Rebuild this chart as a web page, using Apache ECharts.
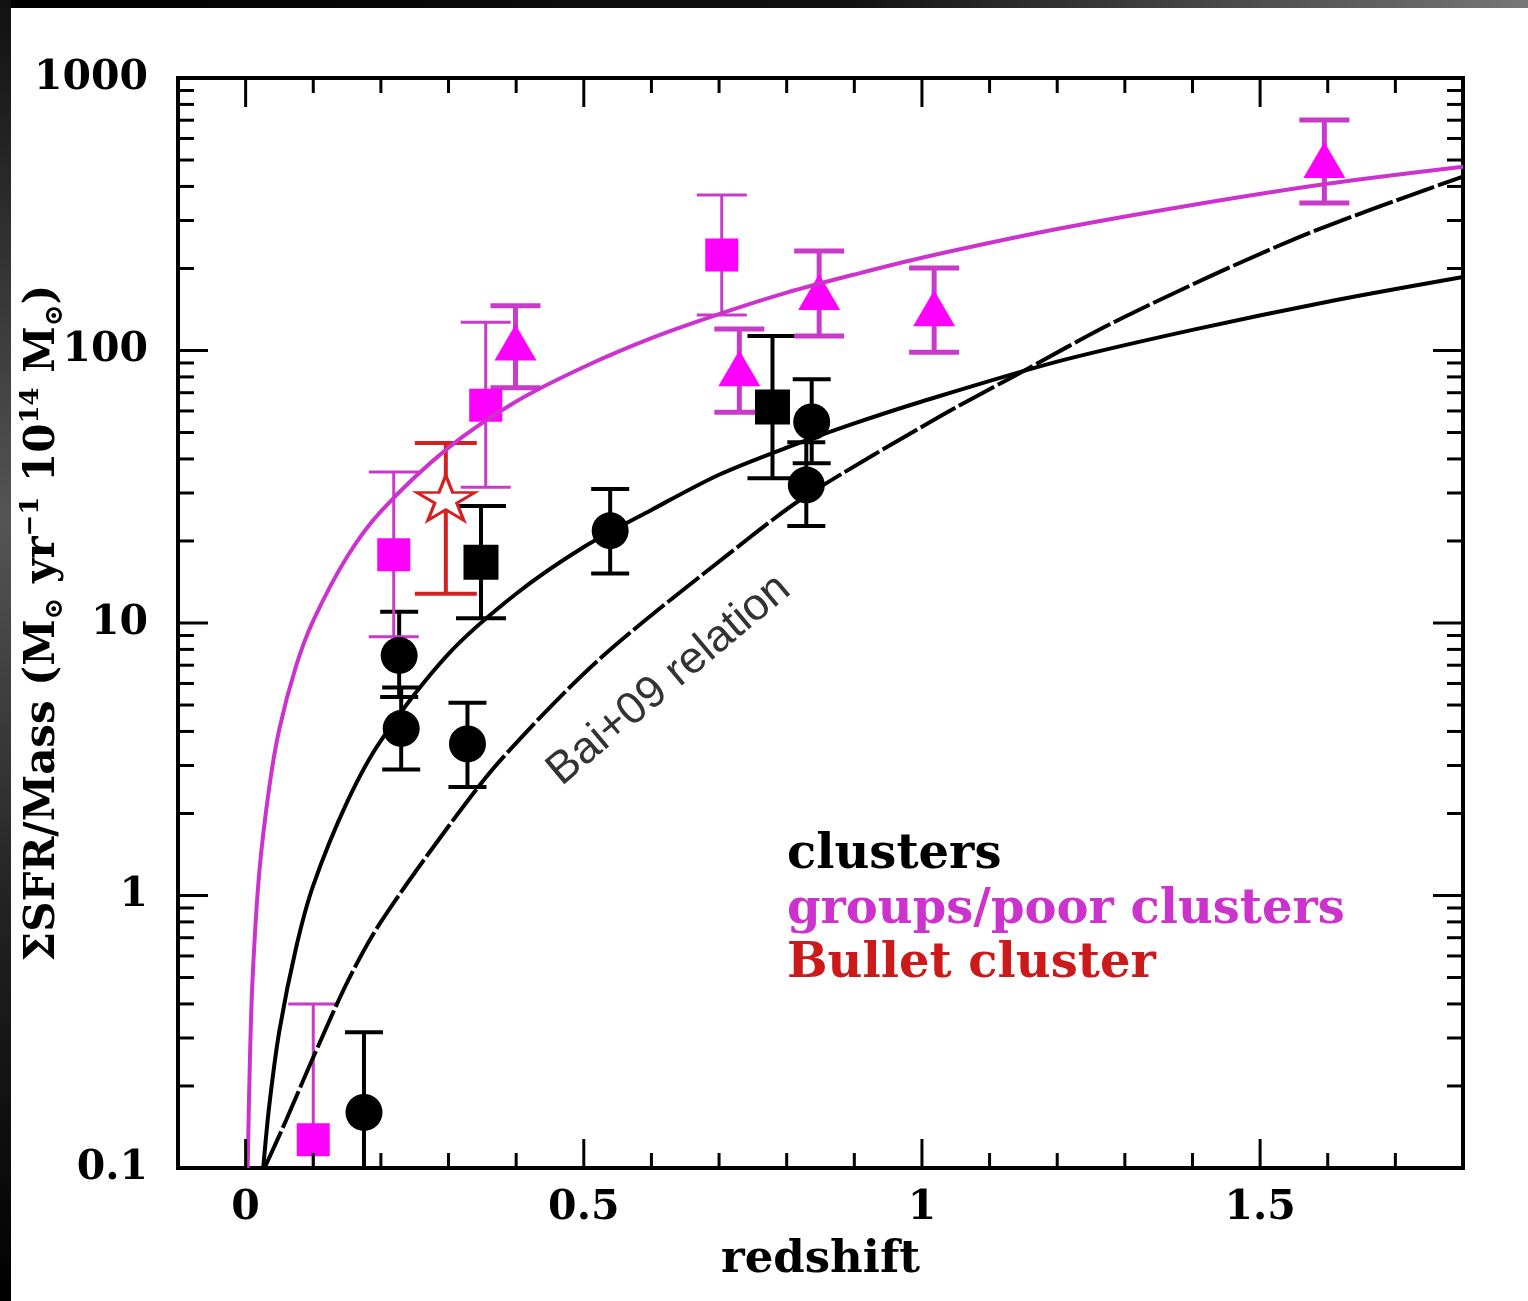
<!DOCTYPE html>
<html><head><meta charset="utf-8">
<script src="https://cdn.jsdelivr.net/npm/echarts@6/dist/echarts.min.js"></script>
<style>html,body{margin:0;padding:0;background:#fff}#c{width:1528px;height:1301px}</style>
</head><body><div id="c"></div>
<script>
// ---- axis ticks / labels ----
const xTickValues = [0, 0.5, 1, 1.5];
const xTickLabels = ['0', '0.5', '1', '1.5'];
const xMinorTicks = [0.1,0.2,0.3,0.4,0.6,0.7,0.8,0.9,1.1,1.2,1.3,1.4,1.6,1.7];
const yTickValues = [0.1, 1, 10, 100, 1000];
const yTickLabels = ['0.1', '1', '10', '100', '1000'];
const yMinorMultipliers = [2,3,4,5,6,7,8,9];
const yMinorDecades = [0.1, 1, 10, 100];

// ---- data: [redshift, value, errLow, errHigh] ----
const clusterCircles = [
  [0.175, 0.16, 0.05, 0.315],
  [0.227, 7.6, 5.35, 11.0],
  [0.230, 4.1, 2.9, 5.8],
  [0.328, 3.6, 2.5, 5.1],
  [0.539, 21.8, 15.2, 31],
  [0.837, 54.7, 38.6, 78.5],
  [0.829, 32.1, 22.7, 46.1]
];
const clusterSquares = [
  [0.348, 16.7, 10.4, 26.9],
  [0.779, 62, 34, 113]
];
const groupSquares = [
  [0.100, 0.127, 0.05, 0.40],
  [0.219, 17.8, 8.9, 35.8],
  [0.355, 63, 31.5, 127],
  [0.704, 224, 135, 372]
];
const groupTriangles = [
  [0.399, 107, 73, 146],
  [0.730, 86, 59.4, 120],
  [0.848, 164, 113, 232],
  [1.018, 143, 98.6, 201],
  [1.595, 500, 348, 701]
];
const bulletCluster = [
  [0.296, 28.8, 12.8, 45.8]
];

// ---- fitted curves: [redshift, value] ----
const groupFit = [[0.003,0.1],[0.006,0.23],[0.01,0.48],[0.02,1.2],[0.035,2.5],[0.05,4.1],[0.075,7],[0.1,10.2],[0.15,17.5],[0.2,25.7],[0.3,44],[0.4,65],[0.5,87],[0.6,111],[0.7,136],[0.8,163],[0.9,190],[1.0,219],[1.2,279],[1.4,342],[1.6,409],[1.8,472]];
const clusterFit = [[0.026,0.1],[0.035,0.17],[0.05,0.32],[0.075,0.65],[0.1,1.09],[0.15,2.2],[0.2,3.7],[0.3,7.7],[0.4,12.8],[0.5,19],[0.6,26],[0.7,35],[0.8,44],[0.9,54],[1.0,65],[1.2,91],[1.4,119],[1.6,151],[1.8,186]];
const baiRelation = [[0.028,0.1],[0.06,0.15],[0.1,0.255],[0.152,0.49],[0.2,0.8],[0.299,1.78],[0.377,3.14],[0.524,7.4],[0.741,20.2],[0.831,29.5],[1.025,57],[1.13,79],[1.3,133],[1.555,259],[1.8,435]];

// ---- build ----
const MAG = '#ff00ff', MAGBAR = '#c83ac8', MAGLINE = '#cc33cc', RED = '#d42020';
const FONT = 'DejaVu Serif';

const tickData = [];
xTickValues.forEach(v => tickData.push([v, 1, 0]));
xMinorTicks.forEach(v => tickData.push([v, 1, 1]));
yTickValues.forEach(v => tickData.push([0.5, v, 2]));
yMinorDecades.forEach(d => yMinorMultipliers.forEach(m => tickData.push([0.5, +(m*d).toPrecision(6), 3])));

const tickLen = {0: 29, 1: 15, 2: 30, 3: 16};
function tickRender(params, api) {
  const cs = params.coordSys;
  const kind = api.value(2);
  const len = tickLen[kind];
  const st = {stroke: '#000', lineWidth: 3};
  if (kind < 2) {
    const x = api.coord([api.value(0), 1])[0];
    const b = cs.y + cs.height, t = cs.y;
    return {type: 'group', children: [
      {type: 'line', shape: {x1: x, y1: b, x2: x, y2: b - len}, style: st},
      {type: 'line', shape: {x1: x, y1: t, x2: x, y2: t + len}, style: st}
    ]};
  } else {
    const y = api.coord([0.5, api.value(1)])[1];
    const l = cs.x, r = cs.x + cs.width;
    return {type: 'group', children: [
      {type: 'line', shape: {x1: l, y1: y, x2: l + len, y2: y}, style: st},
      {type: 'line', shape: {x1: r, y1: y, x2: r - len, y2: y}, style: st}
    ]};
  }
}

function errRender(color, halfCap, lw) {
  return function (params, api) {
    const x = api.value(0);
    const lo = api.coord([x, api.value(2)]);
    const hi = api.coord([x, api.value(3)]);
    const st = {stroke: color, lineWidth: lw};
    return {type: 'group', children: [
      {type: 'line', shape: {x1: lo[0], y1: lo[1], x2: hi[0], y2: hi[1]}, style: st},
      {type: 'line', shape: {x1: lo[0] - halfCap, y1: lo[1], x2: lo[0] + halfCap, y2: lo[1]}, style: st},
      {type: 'line', shape: {x1: hi[0] - halfCap, y1: hi[1], x2: hi[0] + halfCap, y2: hi[1]}, style: st}
    ]};
  };
}
function errSeries(data, color, halfCap, lw) {
  return {type: 'custom', renderItem: errRender(color, halfCap, lw), data: data,
    encode: {x: 0, y: 1}, clip: true, z: 3, silent: true};
}
function markSeries(data, symbol, size, color, extra) {
  return Object.assign({type: 'scatter', symbol: symbol, symbolSize: size,
    data: data.map(d => [d[0], d[1]]), itemStyle: {color: color, opacity: 1}, z: 4, silent: true}, extra || {});
}
function lineSeries(data, color, type) {
  return {type: 'line', data: data, showSymbol: false, smooth: 0.3,
    lineStyle: {color: color, width: 4, type: type || 'solid'}, z: 5, silent: true, clip: true};
}

const STAR = 'path://M50,0 L61.17,34.63 L97.55,34.55 L68.07,55.87 L79.39,90.45 L50,69 L20.61,90.45 L31.93,55.87 L2.45,34.55 L38.83,34.63 Z';

const chart = echarts.init(document.getElementById('c'), null, {renderer: 'canvas'});
chart.setOption({
  animation: false,
  backgroundColor: '#fff',
  grid: {left: 178, top: 78, right: 65, bottom: 133, containLabel: false, outerBoundsMode: 'none',
    show: true, borderColor: '#000', borderWidth: 4, backgroundColor: 'transparent'},
  xAxis: {
    type: 'value', min: -0.1, max: 1.8, interval: 0.1,
    axisLine: {show: false}, axisTick: {show: false}, splitLine: {show: false},
    axisLabel: {
      margin: 20, color: '#000', fontFamily: FONT, fontWeight: 'bold', fontSize: 41,
      formatter: v => { const i = xTickValues.findIndex(t => Math.abs(t - v) < 1e-6); return i < 0 ? '' : xTickLabels[i]; }
    },
    name: 'redshift', nameLocation: 'middle', nameGap: 70, nameMoveOverlap: false,
    nameTextStyle: {color: '#000', fontFamily: FONT, fontWeight: 'bold', fontSize: 45}
  },
  yAxis: {
    type: 'log', logBase: 10, min: 0.1, max: 1000,
    axisLine: {show: false}, axisTick: {show: false}, splitLine: {show: false}, minorTick: {show: false},
    axisLabel: {
      margin: 30, color: '#000', fontFamily: FONT, fontWeight: 'bold', fontSize: 41,
      formatter: v => { const i = yTickValues.findIndex(t => Math.abs(Math.log10(t) - Math.log10(v)) < 1e-6); return i < 0 ? '' : yTickLabels[i]; }
    },
    name: '{n|ΣSFR/Mass (M}{sub|⊙}{n| yr}{sup|−1}{n| 10}{sup|14}{n| M}{sub|⊙}{n|)}',
    nameLocation: 'middle', nameGap: 110, nameRotate: 90, nameMoveOverlap: false,
    nameTextStyle: {
      color: '#000',
      rich: {
        n: {fontFamily: FONT, fontWeight: 'bold', fontSize: 42, color: '#000', lineHeight: 50},
        sub: {fontFamily: FONT, fontWeight: 'bold', fontSize: 26, color: '#000', verticalAlign: 'bottom', lineHeight: 30},
        sup: {fontFamily: FONT, fontWeight: 'bold', fontSize: 26, color: '#000', verticalAlign: 'top', lineHeight: 30}
      }
    }
  },
  graphic: [
    {type: 'rect', left: 0, top: 0, z: 100, shape: {width: 1528, height: 8},
      style: {fill: new echarts.graphic.LinearGradient(0, 0, 1, 0, [{offset: 0, color: '#000'}, {offset: 0.55, color: '#111'}, {offset: 1, color: '#777'}])}},
    {type: 'rect', left: 0, top: 0, z: 100, shape: {width: 11, height: 1301},
      style: {fill: new echarts.graphic.LinearGradient(0, 0, 0, 1, [{offset: 0, color: '#111'}, {offset: 0.4, color: '#555'}, {offset: 0.7, color: '#222'}, {offset: 1, color: '#000'}])}},
    {type: 'text', x: 787, y: 856, z: 50, style: {text: 'clusters', fill: '#000', font: 'bold 48px "DejaVu Serif"', verticalAlign: 'middle'}},
    {type: 'text', x: 787, y: 911, z: 50, style: {text: 'groups/poor clusters', fill: MAGLINE, font: 'bold 48px "DejaVu Serif"', verticalAlign: 'middle'}},
    {type: 'text', x: 787, y: 965, z: 50, style: {text: 'Bullet cluster', fill: '#cc1a1a', font: 'bold 48px "DejaVu Serif"', verticalAlign: 'middle'}},
    {type: 'text', x: 669, y: 680, rotation: 40 * Math.PI / 180, z: 50,
      style: {text: 'Bai+09 relation', fill: '#333', font: '45px "Liberation Sans"', align: 'center', verticalAlign: 'middle'}}
  ],
  series: [
    {type: 'custom', renderItem: tickRender, data: tickData, encode: {x: 0, y: 1}, clip: false, z: 6, silent: true},
    errSeries(clusterCircles, '#000', 19, 4),
    errSeries(clusterSquares, '#000', 25, 4),
    errSeries(groupSquares, MAGBAR, 25, 3),
    errSeries(groupTriangles, MAGBAR, 25, 5),
    errSeries(bulletCluster, RED, 31, 4),
    markSeries(clusterCircles, 'circle', 37, '#000'),
    markSeries(clusterSquares, 'rect', 35, '#000'),
    markSeries(groupSquares, 'rect', 33, MAG),
    markSeries(groupTriangles, 'triangle', [42, 36], MAG),
    markSeries(bulletCluster, STAR, [58, 45], '#fff', {itemStyle: {color: '#fff', borderColor: RED, borderWidth: 3, opacity: 1}}),
    lineSeries(groupFit, MAGLINE),
    lineSeries(clusterFit, '#000'),
    lineSeries(baiRelation, '#000', [40, 4])
  ]
});
</script></body></html>
